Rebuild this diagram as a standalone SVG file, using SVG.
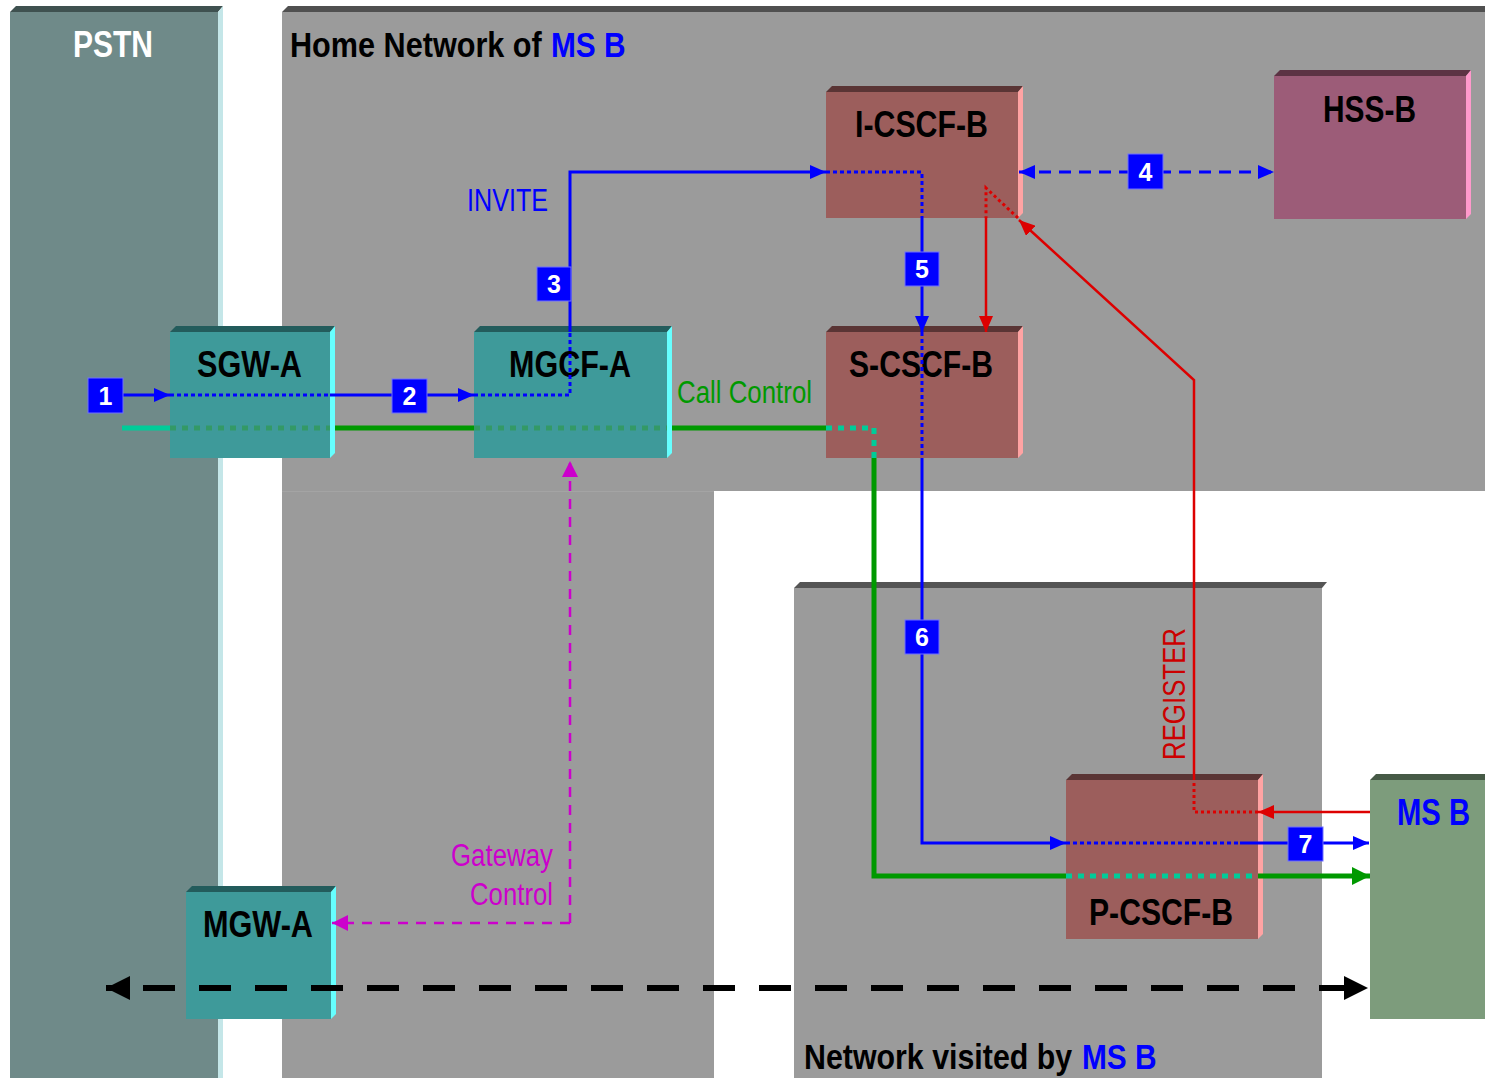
<svg xmlns="http://www.w3.org/2000/svg" width="1485" height="1078" viewBox="0 0 1485 1078">
<style>
.lbl{font-family:"Liberation Sans Narrow","Liberation Sans",Arial,sans-serif;font-weight:bold;font-size:36px;fill:#000}
.reg{font-family:"Liberation Sans Narrow","Liberation Sans",Arial,sans-serif;font-size:31px}
.num{font-family:"Liberation Sans Narrow","Liberation Sans",Arial,sans-serif;font-weight:bold;font-size:25px;fill:#fff;text-anchor:middle}
.badge{fill:#0000ff;stroke:#7070ff;stroke-width:1}
.teal .f{fill:#3e9a9a}.teal .t{fill:#235c5c}.teal .s{fill:#66ffff}
.red .f{fill:#9c5e5c}.red .t{fill:#5a3535}.red .s{fill:#ffa3a3}
.hss .f{fill:#9c5c78}.hss .t{fill:#5c3344}.hss .s{fill:#ff99cc}
.bl{fill:none;stroke:#0000ff;stroke-width:3}
.bld{fill:none;stroke:#0000ff;stroke-width:3;stroke-dasharray:4 3}
.rd{fill:none;stroke:#dd0000;stroke-width:2.5}
.rdd{fill:none;stroke:#dd0000;stroke-width:3;stroke-dasharray:3 3}
.gr{fill:none;stroke:#009900;stroke-width:5}
.grd{fill:none;stroke:#339966;stroke-width:5;stroke-dasharray:6 6}
.tqd{fill:none;stroke:#00cc99;stroke-width:5;stroke-dasharray:6 6}
</style>
<defs>
<marker id="ab" markerUnits="userSpaceOnUse" viewBox="0 0 16 14" refX="16" refY="7" markerWidth="16" markerHeight="14" orient="auto-start-reverse"><path d="M0,0 L16,7 L0,14 z" fill="#0000ff"/></marker>
<marker id="ar" markerUnits="userSpaceOnUse" viewBox="0 0 16 14" refX="16" refY="7" markerWidth="16" markerHeight="14" orient="auto-start-reverse"><path d="M0,0 L16,7 L0,14 z" fill="#dd0000"/></marker>
<marker id="ag" markerUnits="userSpaceOnUse" viewBox="0 0 18 18" refX="18" refY="9" markerWidth="18" markerHeight="18" orient="auto-start-reverse"><path d="M0,0 L18,9 L0,18 z" fill="#009900"/></marker>
<marker id="am" markerUnits="userSpaceOnUse" viewBox="0 0 16 16" refX="16" refY="8" markerWidth="16" markerHeight="16" orient="auto-start-reverse"><path d="M0,0 L16,8 L0,16 z" fill="#cc00cc"/></marker>
<marker id="ak" markerUnits="userSpaceOnUse" viewBox="0 0 24 24" refX="24" refY="12" markerWidth="24" markerHeight="24" orient="auto-start-reverse"><path d="M0,0 L24,12 L0,24 z" fill="#000"/></marker>
</defs>
<rect width="1485" height="1078" fill="#fff"/>
<g id="pstn">
<rect x="10" y="12" width="208" height="1066" fill="#6f8a89"/>
<polygon points="10,12 16,6 223,6 218,12" fill="#3f5150"/>
<polygon points="218,12 223,6 223,1078 218,1078" fill="#c4e6e8"/>
<text class="lbl" x="73" y="57" style="fill:#fff" textLength="80" lengthAdjust="spacingAndGlyphs">PSTN</text>
</g>
<g id="home-network">
<rect x="282" y="12" width="1203" height="479" fill="#9b9b9b"/>
<rect x="282" y="491" width="432" height="587" fill="#9b9b9b"/>
<line x1="282" y1="491.5" x2="714" y2="491.5" stroke="#a4a4a4" stroke-width="1"/>
<polygon points="282,12 288,6 1485,6 1485,12" fill="#505050"/>
<text class="lbl" transform="translate(290,57) scale(0.82,1)" x="0" y="0" textLength="307" lengthAdjust="spacingAndGlyphs">Home Network of</text>
<text class="lbl" transform="translate(551,57) scale(0.82,1)" x="0" y="0" style="fill:#0000ff" textLength="91" lengthAdjust="spacingAndGlyphs">MS B</text>
</g>
<g id="visited-network">
<rect x="794" y="588" width="528" height="490" fill="#9b9b9b"/>
<polygon points="794,588 800,582 1327,582 1322,588" fill="#555"/>
<text class="lbl" transform="translate(804,1069) scale(0.82,1)" x="0" y="0" textLength="327" lengthAdjust="spacingAndGlyphs">Network visited by</text>
<text class="lbl" transform="translate(1082,1069) scale(0.82,1)" x="0" y="0" style="fill:#0000ff" textLength="91" lengthAdjust="spacingAndGlyphs">MS B</text>
</g>
<g id="sgw-a" class="teal">
<rect class="f" x="170" y="332" width="160" height="126"/>
<polygon class="t" points="170,332 176,326 335,326 330,332"/>
<polygon class="s" points="330,332 335,326 335,453 330,458"/>
<text class="lbl" x="197" y="377" textLength="105" lengthAdjust="spacingAndGlyphs">SGW-A</text>
</g>
<g id="mgcf-a" class="teal">
<rect class="f" x="474" y="332" width="193" height="126"/>
<polygon class="t" points="474,332 480,326 672,326 667,332"/>
<polygon class="s" points="667,332 672,326 672,453 667,458"/>
<text class="lbl" x="509" y="377" textLength="122" lengthAdjust="spacingAndGlyphs">MGCF-A</text>
</g>
<g id="mgw-a" class="teal">
<rect class="f" x="186" y="892" width="145" height="127"/>
<polygon class="t" points="186,892 192,886 336,886 331,892"/>
<polygon class="s" points="331,892 336,886 336,1014 331,1019"/>
<text class="lbl" x="203" y="937" textLength="110" lengthAdjust="spacingAndGlyphs">MGW-A</text>
</g>
<g id="i-cscf-b" class="red">
<rect class="f" x="826" y="92" width="192" height="126"/>
<polygon class="t" points="826,92 832,86 1023,86 1018,92"/>
<polygon class="s" points="1018,92 1023,86 1023,213 1018,218"/>
<text class="lbl" x="855" y="137" textLength="133" lengthAdjust="spacingAndGlyphs">I-CSCF-B</text>
</g>
<g id="hss-b" class="hss">
<rect class="f" x="1274" y="76" width="192" height="143"/>
<polygon class="t" points="1274,76 1280,70 1471,70 1466,76"/>
<polygon class="s" points="1466,76 1471,70 1471,214 1466,219"/>
<text class="lbl" x="1323" y="122" textLength="93" lengthAdjust="spacingAndGlyphs">HSS-B</text>
</g>
<g id="s-cscf-b" class="red">
<rect class="f" x="826" y="332" width="192" height="126"/>
<polygon class="t" points="826,332 832,326 1023,326 1018,332"/>
<polygon class="s" points="1018,332 1023,326 1023,453 1018,458"/>
<text class="lbl" x="849" y="377" textLength="144" lengthAdjust="spacingAndGlyphs">S-CSCF-B</text>
</g>
<g id="p-cscf-b" class="red">
<rect class="f" x="1066" y="780" width="192" height="159"/>
<polygon class="t" points="1066,780 1072,774 1263,774 1258,780"/>
<polygon class="s" points="1258,780 1263,774 1263,934 1258,939"/>
<text class="lbl" x="1089" y="925" textLength="144" lengthAdjust="spacingAndGlyphs">P-CSCF-B</text>
</g>
<g id="ms-b">
<rect x="1370" y="780" width="115" height="239" fill="#7d9c7c"/>
<polygon points="1370,780 1376,774 1485,774 1485,780" fill="#465a46"/>
<text class="lbl" x="1397" y="825" style="fill:#0000ff" textLength="73" lengthAdjust="spacingAndGlyphs">MS B</text>
</g>
<g id="connectors">
<path class="gr" d="M122,428 H170" style="stroke:#00cc99"/>
<path class="grd" d="M170,428 H330"/>
<path class="gr" d="M335,428 H474"/>
<path class="grd" d="M474,428 H667"/>
<path class="gr" d="M672,428 H826"/>
<path class="tqd" d="M826,428 H874 V458"/>
<path class="gr" d="M874,458 V876 H1066"/>
<path class="tqd" d="M1066,876 H1258"/>
<path class="gr" d="M1258,876 H1370" marker-end="url(#ag)"/>
<path class="bl" d="M123,395 H170" marker-end="url(#ab)"/>
<path class="bld" d="M170,395 H330"/>
<path class="bl" d="M330,395 H474" marker-end="url(#ab)"/>
<path class="bld" d="M474,395 H570 V332"/>
<path class="bl" d="M570,332 V172 H826" marker-end="url(#ab)"/>
<path class="bld" d="M826,172 H922 V218"/>
<path class="bl" d="M922,218 V332" marker-end="url(#ab)"/>
<path class="bld" d="M922,332 V458"/>
<path class="bl" d="M922,458 V843 H1066" marker-end="url(#ab)"/>
<path class="bld" d="M1066,843 H1240"/>
<path class="bl" d="M1240,843 H1369" marker-end="url(#ab)"/>
<path class="bl" d="M1019,172 H1274" style="stroke-dasharray:12 8" marker-start="url(#ab)" marker-end="url(#ab)"/>
<path class="rd" d="M1370,812 H1258" marker-end="url(#ar)"/>
<path class="rdd" d="M1258,812 H1194 V780"/>
<path class="rd" d="M1194,780 V380 L1019,220" marker-end="url(#ar)"/>
<path class="rdd" d="M1018,218 L986,188 V218"/>
<path class="rd" d="M986,218 V332" marker-end="url(#ar)"/>
<path d="M570,923 V461" fill="none" stroke="#cc00cc" stroke-width="2.5" stroke-dasharray="10 8" marker-end="url(#am)"/>
<path d="M570,923 H332" fill="none" stroke="#cc00cc" stroke-width="2.5" stroke-dasharray="10 8" marker-end="url(#am)"/>
<path d="M106,988 H1368" fill="none" stroke="#000" stroke-width="6" stroke-dasharray="32 24" stroke-dashoffset="19" marker-start="url(#ak)" marker-end="url(#ak)"/>
</g>
<g id="labels">
<text class="reg" x="467" y="211" fill="#0000ff" textLength="81" lengthAdjust="spacingAndGlyphs">INVITE</text>
<text class="reg" x="677" y="403" fill="#009900" textLength="135" lengthAdjust="spacingAndGlyphs">Call Control</text>
<text class="reg" x="451" y="866" fill="#cc00cc" textLength="102" lengthAdjust="spacingAndGlyphs">Gateway</text>
<text class="reg" x="470" y="905" fill="#cc00cc" textLength="83" lengthAdjust="spacingAndGlyphs">Control</text>
<text class="reg" transform="translate(1185,760) rotate(-90)" fill="#cc0000" textLength="132" lengthAdjust="spacingAndGlyphs">REGISTER</text>
</g>
<g id="badges">
<rect class="badge" x="88" y="378" width="35" height="35"/><text class="num" x="105.5" y="405">1</text>
<rect class="badge" x="392" y="379" width="35" height="34"/><text class="num" x="409.5" y="405">2</text>
<rect class="badge" x="537" y="267" width="34" height="34"/><text class="num" x="554" y="293">3</text>
<rect class="badge" x="1128" y="154" width="35" height="35"/><text class="num" x="1145.5" y="181">4</text>
<rect class="badge" x="905" y="252" width="34" height="34"/><text class="num" x="922" y="278">5</text>
<rect class="badge" x="905" y="620" width="34" height="34"/><text class="num" x="922" y="646">6</text>
<rect class="badge" x="1288" y="827" width="35" height="34"/><text class="num" x="1305.5" y="853">7</text>
</g>
</svg>
